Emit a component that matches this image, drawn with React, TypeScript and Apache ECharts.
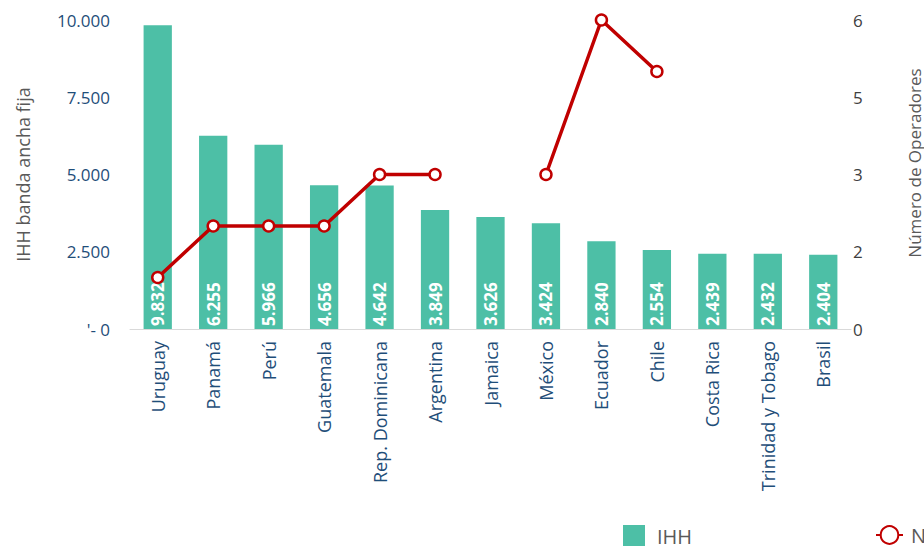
import React, { useEffect, useRef } from "react";
import * as echarts from "echarts";

const categories = [
  "Uruguay", "Panamá", "Perú", "Guatemala", "Rep. Dominicana", "Argentina", "Jamaica",
  "México", "Ecuador", "Chile", "Costa Rica", "Trinidad y Tobago", "Brasil",
];
const ihhValues = [9832, 6255, 5966, 4656, 4642, 3849, 3626, 3424, 2840, 2554, 2439, 2432, 2404];
const operadores: (number | null)[] = [1, 2, 2, 2, 3, 3, null, 3, 6, 5, null, null, null];
const leftTicks = { min: 0, max: 10000, interval: 2500 };
const rightTicks = { min: 0, max: 6, interval: 1.5 };

const fmtThousands = (v: number) =>
  String(Math.round(v)).replace(/\B(?=(\d{3})+(?!\d))/g, ".");

export default function App() {
  const ref = useRef<HTMLDivElement>(null);
  useEffect(() => {
    if (!ref.current) return;
    const chart = echarts.init(ref.current, null, { renderer: "svg" });
    const font = "'Open Sans', 'Noto Sans', sans-serif";
    chart.setOption({
      animation: false,
      textStyle: { fontFamily: font },
      grid: { left: 130, right: 73, top: 20, bottom: 217, containLabel: false },
      legend: [
        {
          data: ["IHH"],
          left: 623,
          top: 525,
          padding: 0,
          itemWidth: 22,
          itemHeight: 22,
          icon: "rect",
          textStyle: { color: "#595959", fontSize: 20, fontFamily: font, padding: [0, 0, 0, 7] },
        },
        {
          data: ["Número de Operadores"],
          left: 875,
          top: 525,
          padding: 0,
          itemWidth: 27,
          itemHeight: 22,
          textStyle: { color: "#595959", fontSize: 20, fontFamily: font, padding: [0, 0, 0, 3] },
        },
      ],
      xAxis: {
        type: "category",
        data: categories,
        axisLine: { lineStyle: { color: "#d9d9d9", width: 1 } },
        axisTick: { show: false },
        axisLabel: {
          rotate: 90,
          color: "#1F4E79",
          fontSize: 18,
          margin: 12,
          interval: 0,
          fontFamily: font,
        },
      },
      yAxis: [
        {
          type: "value",
          min: leftTicks.min,
          max: leftTicks.max,
          interval: leftTicks.interval,
          name: "IHH banda ancha fija",
          nameLocation: "middle",
          nameGap: 98,
          nameRotate: 90,
          nameTextStyle: { color: "#595959", fontSize: 18, fontFamily: font },
          axisLine: { show: false },
          axisTick: { show: false },
          splitLine: { show: false },
          axisLabel: {
            color: "#1F4E79",
            fontSize: 17,
            margin: 20,
            fontFamily: font,
            formatter: (v: number) => (v === 0 ? "'- 0" : fmtThousands(v)),
          },
        },
        {
          type: "value",
          min: rightTicks.min,
          max: rightTicks.max,
          interval: rightTicks.interval,
          axisLine: { show: false },
          axisTick: { show: false },
          splitLine: { show: false },
          axisLabel: {
            color: "#404040",
            fontSize: 17,
            margin: 2,
            fontFamily: font,
            formatter: (v: number) => String(Math.round(v)),
          },
        },
      ],
      graphic: [
        {
          type: "text",
          x: 914,
          y: 163,
          rotation: Math.PI / 2,
          style: {
            text: "Número de Operadores",
            fill: "#595959",
            fontSize: 17,
            fontFamily: font,
            align: "center",
            verticalAlign: "middle",
          },
        },
      ],
      series: [
        {
          name: "IHH",
          type: "bar",
          data: ihhValues,
          barWidth: "51%",
          itemStyle: { color: "#4DBFA6" },
          label: {
            show: true,
            position: "insideBottom",
            rotate: 90,
            align: "left",
            verticalAlign: "middle",
            distance: 3,
            color: "#ffffff",
            fontWeight: "bold",
            fontSize: 17,
            fontFamily: font,
            formatter: (p: any) => fmtThousands(p.value),
          },
        },
        {
          name: "Número de Operadores",
          type: "line",
          yAxisIndex: 1,
          data: operadores,
          connectNulls: false,
          symbol: "circle",
          symbolSize: 11,
          lineStyle: { color: "#C00000", width: 3.5 },
          itemStyle: { color: "#ffffff", borderColor: "#C00000", borderWidth: 2.5 },
          z: 5,
        },
      ],
    });
    return () => chart.dispose();
  }, []);
  return (
    <div
      ref={ref}
      style={{ position: "fixed", left: 0, top: 0, width: 924, height: 546, background: "#fff" }}
    />
  );
}
